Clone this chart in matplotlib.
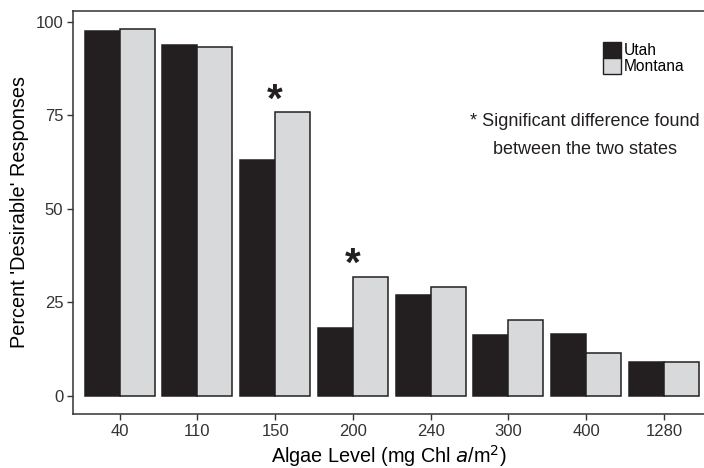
import numpy as np
import matplotlib.pyplot as plt
from matplotlib.patches import Patch

plt.rcParams['font.family'] = ['Liberation Sans', 'DejaVu Sans']

# algae level categories (mg Chl a / m^2)
levels = ['40', '110', '150', '200', '240', '300', '400', '1280']
# percent 'desirable' responses
utah = [97.6, 93.8, 63.2, 18.2, 27.0, 16.4, 16.7, 9.2]
montana = [98.0, 93.4, 75.8, 31.8, 29.1, 20.2, 11.6, 9.0]
# levels with a significant difference between states
signif = ['150', '200']

dark = '#231f20'
light = '#d8d9db'

W, H = 704, 468
fig = plt.figure(figsize=(W / 100, H / 100), dpi=100)
ax = fig.add_axes([73 / W, 54 / H, (W - 73) / W, (414 - 11) / H])

x = np.arange(1, len(levels) + 1)
bw = 0.45
ax.bar(x - bw / 2, utah, width=bw, color=dark, edgecolor=dark, linewidth=1.1)
ax.bar(x + bw / 2, montana, width=bw, color=light, edgecolor=dark, linewidth=1.1)

# asterisks above the significant pairs
for lv in signif:
  i = levels.index(lv)
  top = max(utah[i], montana[i])
  ax.text(x[i], top + 3.2, '*', ha='center', va='center', fontsize=29,
          fontweight='bold', color=dark)

ax.set_xlim(0.4, 0.4 + (W - 73) / 77.75)
ax.set_ylim(-4.8, 102.9)
ax.set_xticks(x)
ax.set_xticklabels(levels)
ax.set_yticks([0, 25, 50, 75, 100])

for s in ['left', 'bottom', 'top']:
  ax.spines[s].set_color('#333333')
  ax.spines[s].set_linewidth(1.1)
ax.spines['right'].set_visible(False)
ax.tick_params(axis='both', direction='out', length=4, width=1.0, color='#333333',
               labelsize=12, labelcolor='#333333', pad=3)

ax.set_xlabel('Algae Level (mg Chl $\\mathit{a}$/m$^2$)', fontsize=14.3, labelpad=3)
ax.set_ylabel("Percent 'Desirable' Responses", fontsize=14.3, labelpad=5)

handles = [Patch(facecolor=dark, edgecolor=dark, linewidth=1.0, label='Utah'),
           Patch(facecolor=light, edgecolor=dark, linewidth=1.0, label='Montana')]
fig.legend(handles=handles, loc='upper left', bbox_to_anchor=(603 / W, 1 - 42 / H),
           frameon=False, fontsize=11.2, handlelength=1.18, handleheight=1.18,
           handletextpad=0.15, labelspacing=0.0, borderpad=0, borderaxespad=0)

fig.text(585 / W, 1 - 121 / H, '* Significant difference found', ha='center', va='center',
         fontsize=13, color=dark)
fig.text(585 / W, 1 - 150 / H, 'between the two states', ha='center', va='center',
         fontsize=13, color=dark)

fig.savefig('out.png', dpi=100)
